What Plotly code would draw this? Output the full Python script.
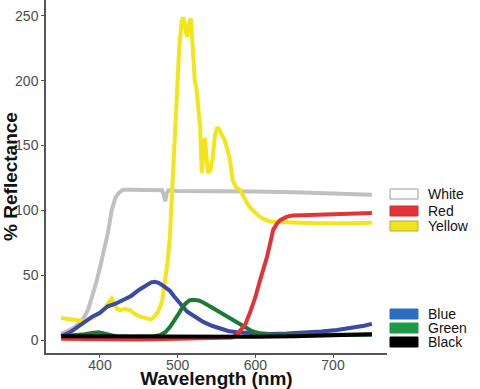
import plotly.graph_objects as go

# ---- data ----
white_wl = [350, 355, 360, 365, 370, 375, 380, 385, 390, 395, 400, 405, 410, 415, 420, 425, 430, 440, 460, 480, 482, 484, 486, 488, 500, 550, 600, 650, 700, 750]
white_val = [5, 6, 7.5, 9, 11, 14, 18, 24, 33, 44, 56, 69, 82, 100, 110, 114, 116, 116, 116, 115.5, 112, 107, 113, 115.5, 115, 115, 114.5, 114, 113, 112]

yellow_wl = [350, 360, 370, 380, 390, 400, 405, 410, 415, 418, 422, 426, 432, 439, 445, 452, 460, 465, 470, 475, 480, 484, 487, 490, 494, 498, 502, 505, 507, 510, 512, 515, 517, 519, 520, 521, 522, 524, 526, 529, 531, 533, 535, 539, 542, 545, 548, 551, 554, 557, 560, 563, 567, 571, 575, 580, 585, 590, 595, 600, 606, 612, 619, 630, 650, 680, 720, 750]
yellow_val = [17, 16, 15, 14.5, 17, 21, 24, 28, 32, 28, 24, 23, 24, 23, 20, 18, 17, 16, 18, 22, 30, 45, 60, 80, 131, 180, 225, 245, 249, 240, 234, 245, 248, 230, 218, 215, 200, 195, 185, 164, 129, 140, 156, 129, 131, 140, 158, 164, 162, 158, 155, 149, 140, 123, 118, 116, 110, 105, 101, 98, 95, 93, 91.5, 91, 90.5, 90, 90, 90.5]

blue_wl = [350, 355, 360, 365, 370, 375, 380, 390, 400, 410, 420, 430, 440, 451, 460, 466, 471, 476, 481, 486, 490, 495, 500, 505, 512, 516, 525, 533, 544, 554, 565, 576, 597, 619, 640, 661, 685, 705, 720, 731, 740, 750]
blue_val = [3, 4, 5.5, 7.5, 9.5, 11.5, 13.5, 18, 21, 26, 28, 31, 34, 39, 42, 44.5, 45, 44, 42, 40, 38, 34, 30.5, 27, 22, 20.5, 17, 14, 11, 9, 7, 6, 5, 4.6, 5, 5.4, 6.5, 7.7, 9, 10, 11, 12.5]

green_wl = [350, 370, 380, 390, 398, 405, 412, 420, 440, 470, 478, 484, 490, 495, 500, 505, 510, 515, 520, 527, 533, 543, 554, 565, 576, 585, 593, 600, 606, 620, 650, 700, 750]
green_val = [3, 3.5, 4.5, 5.5, 6, 5, 4, 3, 2.5, 3, 4, 6, 10, 14, 19, 24, 28, 30.5, 31, 30.5, 29, 25.5, 21.5, 17.5, 14, 10.5, 7.7, 6, 5, 4, 3.8, 4, 4]

red_wl = [350, 400, 450, 500, 550, 570, 576, 582, 587, 593, 600, 606, 610, 615, 620, 623, 628, 632, 640, 648, 670, 700, 730, 750]
red_val = [1, 0.5, 0.5, 1, 1.5, 2, 4, 8, 12, 21, 33, 46, 53, 64, 77, 85, 90, 92.5, 95, 96, 96.5, 97, 97.5, 98]

black_wl = [350, 400, 450, 500, 550, 600, 650, 700, 750]
black_val = [3, 2.8, 2.5, 2.5, 2.5, 2.5, 3, 3.5, 4.5]

x_tick_vals = [400, 500, 600, 700]
y_tick_vals = [0, 50, 100, 150, 200, 250]

legend_top = ["White", "Red", "Yellow"]
legend_top_fill = ["#ffffff", "#e5333a", "#f2e41c"]
legend_top_line = ["#9a9a9a", "#c83038", "#b8aa40"]
legend_bottom = ["Blue", "Green", "Black"]
legend_bottom_fill = ["#2b6fc2", "#1d9a46", "#000000"]
legend_bottom_line = ["#2b6fc2", "#1d9a46", "#000000"]

# ---- figure ----
series = [
    (white_wl, white_val, "#c0c0c0", "White"),
    (yellow_wl, yellow_val, "#f3e51a", "Yellow"),
    (blue_wl, blue_val, "#3a4aa6", "Blue"),
    (green_wl, green_val, "#1d7a34", "Green"),
    (red_wl, red_val, "#e0343a", "Red"),
    (black_wl, black_val, "#000000", "Black"),
]

fig = go.Figure()
for wl, val, col, name in series:
    fig.add_trace(go.Scatter(x=wl, y=val, mode="lines", name=name,
                             line=dict(color=col, width=4), showlegend=False))

W, H = 480, 389
ml, mr, mt, mb = 46, 93, 0, 36
pw, ph = W - ml - mr, H - mt - mb


def px_x(px):
    return (px - ml) / pw


def px_y(py):
    return (H - mb - py) / ph


shapes = []
annotations = []
top_centers = [194, 211, 226]
bottom_centers = [314, 328, 342]
for names, fills, lines, centers in [
    (legend_top, legend_top_fill, legend_top_line, top_centers),
    (legend_bottom, legend_bottom_fill, legend_bottom_line, bottom_centers),
]:
    for name, fc, lc, cy in zip(names, fills, lines, centers):
        shapes.append(dict(type="rect", xref="paper", yref="paper",
                           x0=px_x(390), x1=px_x(418), y0=px_y(cy + 5), y1=px_y(cy - 5),
                           fillcolor=fc, line=dict(color=lc, width=1)))
        annotations.append(dict(xref="paper", yref="paper", x=px_x(426), y=px_y(cy),
                                xanchor="left", yanchor="middle", text=name, showarrow=False,
                                font=dict(size=14, color="#111111",
                                          family="Liberation Sans, Arial, sans-serif")))

fig.update_layout(
    width=W, height=H,
    margin=dict(l=ml, r=mr, t=mt, b=mb),
    paper_bgcolor="white", plot_bgcolor="white",
    font=dict(family="Liberation Sans, Arial, sans-serif"),
    shapes=shapes, annotations=annotations,
    showlegend=False,
)
fig.update_xaxes(range=[330.5, 769.5], tickvals=x_tick_vals, showgrid=False, zeroline=False,
                 showline=True, linecolor="#555555", linewidth=1.5,
                 ticks="outside", ticklen=3, tickcolor="#555555",
                 tickfont=dict(size=14, color="#4d4d4d"), ticklabelstandoff=-5,
                 title=dict(text="<b>Wavelength (nm)</b>", font=dict(size=19, color="#111111"), standoff=4),
                 automargin=False)
fig.update_yaxes(range=[-10, 262.3], tickvals=y_tick_vals, showgrid=False, zeroline=False,
                 showline=True, linecolor="#555555", linewidth=1.5,
                 ticks="outside", ticklen=3, tickcolor="#555555",
                 tickfont=dict(size=14, color="#4d4d4d"),
                 title=dict(text="<b>% Reflectance</b>", font=dict(size=19, color="#111111"), standoff=3),
                 automargin=False)

fig.write_html("out.html", config={"displayModeBar": False},
               post_script="document.body.style.margin='0';")
